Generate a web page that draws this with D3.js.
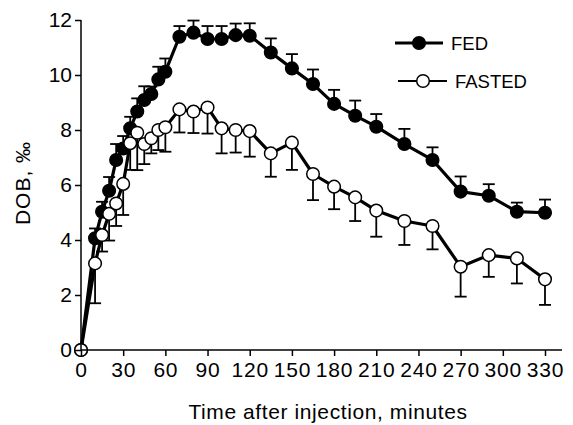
<!DOCTYPE html>
<html>
<head>
<meta charset="utf-8">
<script src="https://cdn.jsdelivr.net/npm/d3@7"></script>
<style>
  body { margin: 0; background: #fff; }
  svg { display: block; font-family: "Liberation Sans", Arial, sans-serif; }
</style>
</head>
<body>
<svg id="chart" width="573" height="425"></svg>
<script>
//Sampling times (minutes) and the two series with their SEM
const times = [0, 10, 15, 20, 25, 30, 35, 40, 45, 50, 55, 60, 70, 80, 90, 100, 110, 120,
  135, 150, 165, 180, 195, 210, 230, 250, 270, 290, 310, 330];

const fed = [0, 4.06, 5.03, 5.79, 6.91, 7.33, 8.06, 8.67, 9.09, 9.31, 9.84, 10.12, 11.39, 11.54,
  11.31, 11.31, 11.45, 11.43, 10.82, 10.24, 9.67, 8.95, 8.52, 8.12, 7.49, 6.91, 5.76, 5.61, 5.03, 4.99];
const fedErr = [0, 0.36, 0.36, 0.5, 0.58, 0.45, 0.42, 0.48, 0.5, 0.27, 0.46, 0.48, 0.39, 0.44,
  0.47, 0.47, 0.42, 0.45, 0.51, 0.52, 0.53, 0.51, 0.55, 0.46, 0.55, 0.46, 0.55, 0.42, 0.33, 0.48];

const fasted = [0, 3.15, 4.18, 4.95, 5.33, 6.04, 7.52, 7.9, 7.49, 7.7, 8.0, 8.1, 8.75, 8.67,
  8.82, 8.06, 8.0, 7.96, 7.15, 7.54, 6.4, 5.94, 5.55, 5.07, 4.69, 4.51, 3.03, 3.45, 3.33, 2.57];
const fastedErr = [0, 1.45, 0.6, 0.97, 0.82, 1.13, 0.97, 1.36, 0.73, 0.55, 0.73, 0.89, 0.84, 0.78,
  0.95, 0.91, 0.82, 0.93, 0.85, 0.99, 0.95, 0.82, 0.86, 0.95, 0.87, 0.85, 1.09, 0.79, 0.91, 0.93];

const xTicks = [0, 30, 60, 90, 120, 150, 180, 210, 240, 270, 300, 330];
const yTicks = [0, 2, 4, 6, 8, 10, 12];

const seriesNames = ["FED", "FASTED"];

//Layout
const chart = {};
chart.left = 81;
chart.right = 545;
chart.top = 20;
chart.bottom = 350;
chart.axisEnd = 562;
chart.radius = 6.3;
chart.cap = 6;

chart.svg = d3.select("#chart");

chart.x = d3.scaleLinear().domain([0, 330]).range([chart.left, chart.right]);
chart.y = d3.scaleLinear().domain([0, 12]).range([chart.bottom, chart.top]);

//Build one row per time for each series
const series = [
  { name: "FED", filled: true, dir: -1,
    rows: times.map((t, i) => ({ t: t, v: fed[i], e: fedErr[i] })) },
  { name: "FASTED", filled: false, dir: 1,
    rows: times.map((t, i) => ({ t: t, v: fasted[i], e: fastedErr[i] })) }
];

//Error bars (FED upward, FASTED downward)
series.forEach((s) => {
  const g = chart.svg.append("g")
    .attr("stroke", "#000")
    .attr("stroke-width", 1.8)
    .attr("fill", "none");
  const rows = s.rows.filter((d) => d.e > 0);
  g.selectAll("line.bar").data(rows).join("line")
    .attr("x1", (d) => chart.x(d.t))
    .attr("x2", (d) => chart.x(d.t))
    .attr("y1", (d) => chart.y(d.v))
    .attr("y2", (d) => chart.y(d.v - s.dir * d.e));
  g.selectAll("line.cap").data(rows).join("line")
    .attr("x1", (d) => chart.x(d.t) - chart.cap)
    .attr("x2", (d) => chart.x(d.t) + chart.cap)
    .attr("y1", (d) => chart.y(d.v - s.dir * d.e))
    .attr("y2", (d) => chart.y(d.v - s.dir * d.e));
});

//Lines
const line = d3.line().x((d) => chart.x(d.t)).y((d) => chart.y(d.v));
series.forEach((s) => {
  chart.svg.append("path")
    .datum(s.rows)
    .attr("d", line)
    .attr("fill", "none")
    .attr("stroke", "#000")
    .attr("stroke-width", 3.2)
    .attr("stroke-linejoin", "round");
});

//Markers
series.forEach((s) => {
  chart.svg.append("g").selectAll("circle").data(s.rows).join("circle")
    .attr("cx", (d) => chart.x(d.t))
    .attr("cy", (d) => chart.y(d.v))
    .attr("r", chart.radius)
    .attr("fill", s.filled ? "#000" : "#fff")
    .attr("stroke", "#000")
    .attr("stroke-width", 1.5);
});

//Axes, drawn last so the origin marker shows the crossing lines
const xAxis = chart.svg.append("g")
  .attr("transform", "translate(0," + chart.bottom + ")")
  .call(d3.axisBottom(chart.x).tickValues(xTicks).tickSize(6).tickSizeOuter(0).tickPadding(6));
xAxis.select(".domain").remove();
xAxis.append("line")
  .attr("x1", chart.left).attr("x2", chart.axisEnd)
  .attr("stroke", "#000").attr("stroke-width", 1.5);

const yAxis = chart.svg.append("g")
  .attr("transform", "translate(" + chart.left + ",0)")
  .call(d3.axisLeft(chart.y).tickValues(yTicks).tickSize(6).tickSizeOuter(0).tickPadding(3));
yAxis.select(".domain").remove();
yAxis.append("line")
  .attr("y1", chart.top).attr("y2", chart.bottom)
  .attr("stroke", "#000").attr("stroke-width", 1.5);

chart.svg.selectAll(".tick line").attr("stroke", "#000").attr("stroke-width", 1.5);
chart.svg.selectAll(".tick text")
  .attr("fill", "#000")
  .style("font-size", "21px")
  .style("font-family", "'Liberation Sans', Arial, sans-serif");
xAxis.selectAll(".tick text").style("letter-spacing", "0.8px");

//Axis titles
chart.svg.append("text")
  .attr("x", 328)
  .attr("y", 419)
  .attr("text-anchor", "middle")
  .style("font-size", "21px")
  .style("letter-spacing", "0.6px")
  .text("Time after injection, minutes");

chart.svg.append("text")
  .attr("transform", "translate(30,183) rotate(-90)")
  .attr("text-anchor", "middle")
  .style("font-size", "21px")
  .style("letter-spacing", "1px")
  .text("DOB, \u2030");

//Legend
const legend = chart.svg.append("g");
const legendRows = [
  { name: seriesNames[0], filled: true, y: 43, x1: 395, x2: 443, mx: 419, tx: 451, w: 3.2 },
  { name: seriesNames[1], filled: false, y: 81, x1: 398, x2: 447, mx: 423, tx: 455, w: 2 }
];
legendRows.forEach((r) => {
  legend.append("line")
    .attr("x1", r.x1).attr("x2", r.x2)
    .attr("y1", r.y).attr("y2", r.y)
    .attr("stroke", "#000").attr("stroke-width", r.w);
  legend.append("circle")
    .attr("cx", r.mx).attr("cy", r.y).attr("r", chart.radius)
    .attr("fill", r.filled ? "#000" : "#fff")
    .attr("stroke", "#000").attr("stroke-width", 1.5);
  legend.append("text")
    .attr("x", r.tx).attr("y", r.y + 6.5)
    .style("font-size", "18.5px")
    .text(r.name);
});
</script>
</body>
</html>
